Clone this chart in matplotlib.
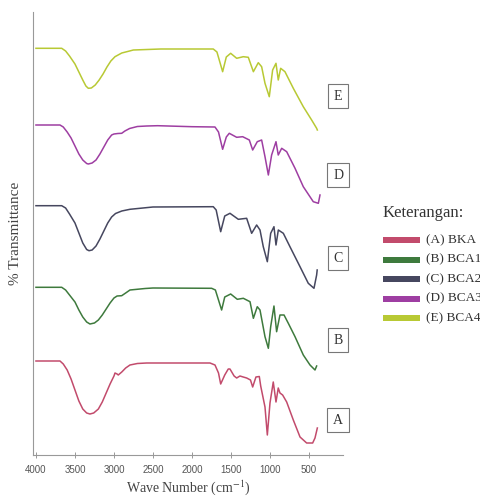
import matplotlib
matplotlib.use("Agg")
import matplotlib.pyplot as plt
from matplotlib.patches import Rectangle

plt.rcParams["mathtext.fontset"] = "stix"

SERIF = ["Liberation Serif", "DejaVu Serif"]

# stacked FTIR traces, y is transmittance with a per-sample offset already included
wn_a = [4000, 3692, 3650, 3600, 3550, 3500, 3450, 3400, 3350, 3308, 3260, 3200, 3150, 3100,
        3050, 3000, 2987, 2960, 2945, 2900, 2850, 2795, 2700, 2580, 2200,
        1769, 1705, 1660, 1632, 1580, 1535, 1513, 1460, 1427, 1385, 1343, 1299, 1250, 1222,
        1180, 1137, 1119, 1064, 1034, 1000, 958, 923, 894, 872, 838, 786, 701, 615, 530,
        453, 423, 393]
t_a = [94, 94, 91, 85, 76, 65, 54, 46, 42, 41, 42, 46, 53, 62,
       71, 79, 82, 81, 80, 83, 87, 90, 91.5, 92, 92,
       92, 90, 82, 71, 80, 86, 86, 79, 77, 79, 78, 77, 75, 68,
       78, 78.5, 69, 48, 20, 52, 73, 53, 67, 62, 60, 53, 35, 18, 12,
       12, 17, 27]

wn_b = [4000, 3670, 3620, 3570, 3500, 3450, 3400, 3350, 3308, 3250, 3200, 3150, 3100, 3050,
        3000, 2960, 2901, 2850, 2795, 2600, 2500, 1748, 1700,
        1620, 1580, 1504, 1419, 1342, 1256, 1213, 1163, 1128, 1064, 1021, 991, 949, 915,
        872, 820, 765, 679, 573, 487, 423, 402]
t_b = [167.7, 167.7, 165, 160, 153, 145, 138, 133, 131, 132, 135, 140, 146, 152,
       157, 159, 159.3, 162, 165, 166.5, 167, 166.7, 165,
       145, 158, 161, 155.7, 156.7, 153.3, 136.7, 148.3, 145, 118.3, 106.7, 128.3, 149, 123.3,
       140, 140, 131.7, 118.3, 100, 90, 85, 89]

wn_c = [4000, 3670, 3620, 3570, 3500, 3450, 3400, 3350, 3320, 3280, 3230, 3180, 3130, 3080,
        3030, 2980, 2900, 2795, 2500, 1727, 1690,
        1632, 1580, 1513, 1406, 1299, 1235, 1171, 1128, 1086, 1034, 991, 949, 923, 893,
        829, 744, 615, 509, 436, 402, 395]
t_c = [249.3, 249.3, 247, 241, 232, 222, 212, 205.5, 204.3, 205, 209, 216, 224, 232,
       238, 241.5, 244, 245.7, 248, 248.3, 245,
       223.3, 239, 241.7, 235.7, 236.7, 221.7, 230, 225, 208.3, 193.3, 221.7, 228.3, 210, 225,
       221.7, 208.3, 188.3, 171.7, 166.7, 180, 185]

wn_d = [4000, 3692, 3650, 3600, 3550, 3500, 3450, 3400, 3350, 3329, 3280, 3230, 3180, 3130,
        3080, 3030, 3000, 2950, 2901, 2860, 2800, 2700, 2580, 2440, 2000,
        1705, 1660, 1607, 1560, 1522, 1427, 1350, 1265, 1222, 1163, 1107, 1064, 1021, 979,
        923, 894, 850, 786, 679, 573, 445, 380, 359]
t_d = [330, 330, 328, 323, 317, 309, 301, 295, 291.5, 291, 292, 295, 301, 308,
       315, 320, 321, 321.5, 321.7, 324, 326.5, 328.5, 329, 329.3, 328.3,
       328, 323, 305.7, 318, 321.7, 317.7, 318.3, 315, 305, 313.3, 315, 298.3, 280, 300,
       313.3, 300, 306.7, 303.3, 286.7, 268.3, 253.3, 251.7, 260]

wn_e = [4000, 3670, 3620, 3570, 3500, 3450, 3400, 3360, 3329, 3290, 3240, 3190, 3140, 3090,
        3040, 2987, 2900, 2800, 2752, 2400, 1727, 1680,
        1607, 1560, 1504, 1427, 1342, 1278, 1213, 1150, 1107, 1064, 1009, 966, 923, 894,
        863, 808, 701, 573, 466, 402, 393]
t_e = [406.7, 406.7, 404, 399, 391, 383, 375, 369, 366.7, 367, 370, 375, 381, 388,
       394, 398.3, 402, 404, 405, 406, 406, 403,
       383.3, 398, 401.7, 396.7, 398.3, 397.7, 383.3, 392.3, 388.3, 371.7, 358.3, 385, 391.7, 375,
       386.7, 383.3, 366.7, 348.3, 335, 326.7, 325]

letters = ["A", "B", "C", "D", "E"]
names = ["(A) BKA", "(B) BCA1", "(C) BCA2", "(D) BCA3", "(E) BCA4"]
colors = ["#c24b6c", "#3e7a3d", "#46475f", "#9e3ea2", "#b8c934"]
label_y = [35, 115, 197, 280, 359]
xticks = [4000, 3500, 3000, 2500, 2000, 1500, 1000, 500]

series = [(wn_a, t_a), (wn_b, t_b), (wn_c, t_c), (wn_d, t_d), (wn_e, t_e)]

fig = plt.figure(figsize=(4.81, 4.96), dpi=100)
ax = fig.add_axes([33 / 481, 1 - 455 / 496, 310 / 481, 443 / 496])

for (wn, t), c in zip(series, colors):
    ax.plot(wn, t, color=c, lw=1.1, solid_joinstyle="round")

ax.set_xlim(4038, 64)
ax.set_ylim(0, 443)
ax.set_xticks(xticks)
ax.set_xticklabels([str(v) for v in xticks], fontsize=7, color="#555555",
                   family="Liberation Sans")
ax.tick_params(axis="x", direction="inout", length=5, width=0.6, color="#888888", pad=5)
ax.set_yticks([])
for side in ("top", "right"):
    ax.spines[side].set_visible(False)
for side in ("left", "bottom"):
    ax.spines[side].set_color("#999999")
    ax.spines[side].set_linewidth(0.8)

ax.set_xlabel("Wave Number (cm$^{-1}$)", family=SERIF, fontsize=10, color="#444444",
              labelpad=2)
ax.set_ylabel("% Transmittance", family=SERIF, fontsize=11, color="#444444", labelpad=8)

# boxed sample letters at the right edge of the plot
tr = ax.get_yaxis_transform()
for lt, yy in zip(letters, label_y):
    ax.text(0.984, yy, lt, transform=tr, ha="center", va="center", family=SERIF,
            fontsize=10, color="#333333",
            bbox=dict(boxstyle="square,pad=0.4", fc="white", ec="#777777", lw=0.8))

# legend drawn by hand
fig.text(383 / 481, 1 - 213 / 496, "Keterangan:", family=SERIF, fontsize=12,
         color="#333333", ha="left", va="center")
for i, (nm, c) in enumerate(zip(names, colors)):
    yc = 240 + i * 19.5
    fig.patches.append(Rectangle((383 / 481, 1 - (yc + 3) / 496), 37 / 481, 6 / 496,
                                 transform=fig.transFigure, fc=c, ec="none"))
    fig.text(426 / 481, 1 - yc / 496, nm, family=SERIF, fontsize=9.5, color="#333333",
             ha="left", va="center")

fig.savefig("out.png", dpi=100)
